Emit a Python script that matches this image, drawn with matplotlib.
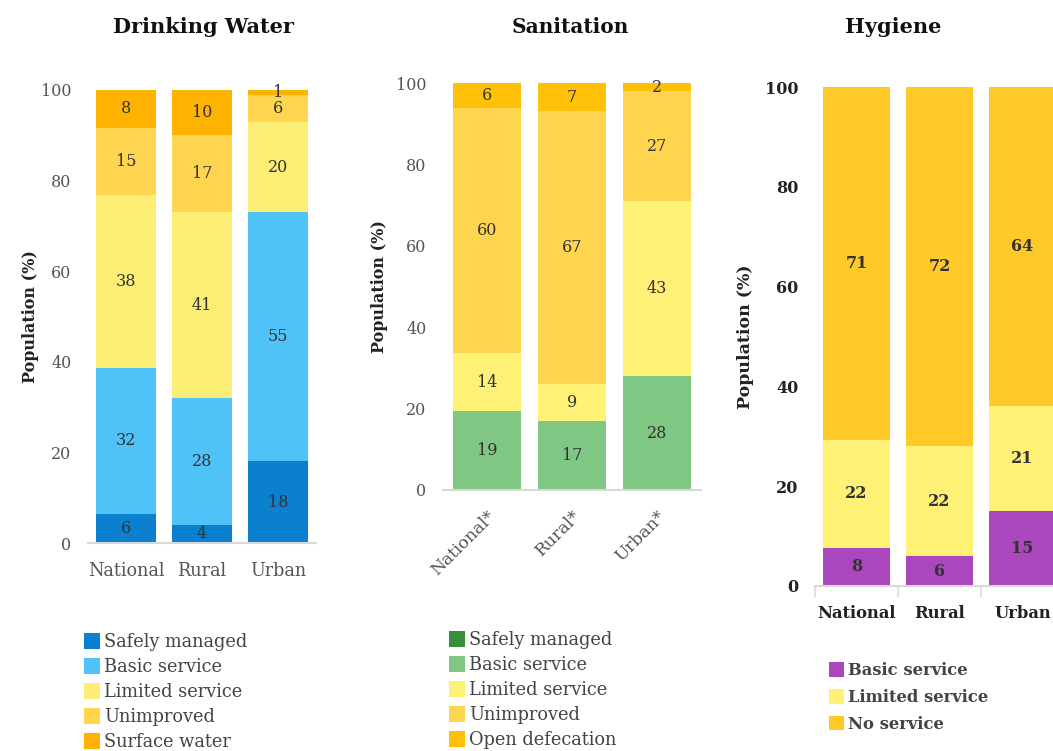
import numpy as np
import matplotlib
matplotlib.use("Agg")
import matplotlib.pyplot as plt
from matplotlib.patches import Patch

plt.rcParams['font.family'] = ['DejaVu Serif']

# data (segment heights, labels as printed)
dw_groups = ["National", "Rural", "Urban"]
dw_labels = ["Safely managed", "Basic service", "Limited service", "Unimproved", "Surface water"]
dw_colors = ["#0B80CF", "#4FC3F7", "#FCEE75", "#FFD54F", "#FFB300"]
dw_safe = [6.4, 4, 18]
dw_basic = [32.3, 28, 55]
dw_limited = [38.2, 41, 20]
dw_unimp = [14.8, 17, 6]
dw_surface = [8.3, 10, 1]

san_groups = ["National*", "Rural*", "Urban*"]
san_labels = ["Safely managed", "Basic service", "Limited service", "Unimproved", "Open defecation"]
san_colors = ["#388E3C", "#81C784", "#FFF176", "#FFD54F", "#FFC107"]
san_safe = [0, 0, 0]
san_basic = [19.3, 17, 28]
san_limited = [14.4, 9, 43]
san_unimp = [60.2, 67, 27]
san_open = [6.1, 7, 2]

hy_groups = ["National", "Rural", "Urban"]
hy_labels = ["Basic service", "Limited service", "No service"]
hy_colors = ["#AB47BC", "#FFF176", "#FFCA28"]
hy_basic = [7.7, 6, 15]
hy_limited = [21.6, 22, 21]
hy_none = [70.7, 72, 64]

W, H = 1053, 751
fig = plt.figure(figsize=(W / 100, H / 100), dpi=100)


def px_axes(x0, x1, y0, y1):
    # y0 = pixel of value 0, y1 = pixel of value 100
    return fig.add_axes([x0 / W, 1 - y0 / H, (x1 - x0) / W, (y0 - y1) / H])


def stacked(ax, series, colors, width, weight, xlim):
    x = np.arange(3)
    bottom = np.zeros(3)
    for vals, c in zip(series, colors):
        vals = np.array(vals, dtype=float)
        ax.bar(x, vals, width, bottom=bottom, color=c, edgecolor="none")
        for xi, b, v in zip(x, bottom, vals):
            if v > 0:
                ax.text(xi, b + v / 2, f"{v:.0f}", ha="center", va="center",
                        fontsize=11.5, color="#333333", fontweight=weight)
        bottom += vals
    ax.set_ylim(0, 100)
    ax.set_xlim(*xlim)
    ax.set_yticks([0, 20, 40, 60, 80, 100])
    for s in ["top", "right", "left"]:
        ax.spines[s].set_visible(False)
    ax.spines["bottom"].set_color("#d9d9d9")
    ax.spines["bottom"].set_linewidth(1.5)
    ax.tick_params(axis="y", length=0, labelsize=11.5, labelcolor="#555555", pad=12)
    ax.tick_params(axis="x", length=0, labelsize=12.7, labelcolor="#555555")


# Drinking water
ax1 = px_axes(88, 316, 543, 90)
stacked(ax1, [dw_safe, dw_basic, dw_limited, dw_unimp, dw_surface], dw_colors, 0.79, "normal", (-0.5, 2.5))
ax1.set_xticks(range(3))
ax1.set_xticklabels(dw_groups)
ax1.tick_params(axis="x", pad=14)
ax1.set_ylabel("Population (%)", fontsize=11.5, fontweight="bold", color="#222222", labelpad=1)
fig.text(203 / W, 1 - 27 / H, "Drinking Water", ha="center", va="center",
         fontsize=15, fontweight="bold", color="#111111")

# Sanitation
ax2 = px_axes(443, 701, 490, 83)
stacked(ax2, [san_safe, san_basic, san_limited, san_unimp, san_open], san_colors, 0.8, "normal", (-0.52, 2.52))
ax2.set_xticks(range(3))
ax2.set_xticklabels(san_groups, rotation=45, ha="right", rotation_mode="anchor")
ax2.tick_params(axis="x", pad=13, labelsize=12.3)
ax2.set_ylabel("Population (%)", fontsize=11.5, fontweight="bold", color="#222222", labelpad=6)
fig.text(570 / W, 1 - 27 / H, "Sanitation", ha="center", va="center",
         fontsize=14.5, fontweight="bold", color="#111111")

# Hygiene
ax3 = px_axes(815, 1064, 586, 87)
stacked(ax3, [hy_basic, hy_limited, hy_none], hy_colors, 0.8, "bold", (-0.5, 2.5))
ax3.set_xticks(range(3))
ax3.set_xticklabels(hy_groups, fontweight="bold", color="#222222")
ax3.set_xticks([-0.5, 0.5, 1.5], minor=True)
ax3.tick_params(axis="x", which="minor", length=8, color="#d9d9d9", width=1.2)
ax3.tick_params(axis="x", which="major", pad=14, labelsize=11.8, labelcolor="#222222")
ax3.tick_params(axis="y", labelcolor="#222222")
for t in ax3.get_yticklabels():
    t.set_fontweight("bold")
ax3.set_ylabel("Population (%)", fontsize=12.5, fontweight="bold", color="#222222", labelpad=8)
fig.text(893 / W, 1 - 27 / H, "Hygiene", ha="center", va="center",
         fontsize=15, fontweight="bold", color="#111111")


def legend(labels, colors, x, y, weight, size, spacing):
    handles = [Patch(facecolor=c, edgecolor="none") for c in colors]
    leg = fig.legend(handles, labels, loc="upper left", bbox_to_anchor=(x / W, 1 - y / H),
                     frameon=False, handlelength=0.9, handleheight=1.0, handletextpad=0.25,
                     labelspacing=spacing, borderpad=0, borderaxespad=0,
                     prop={"size": size, "weight": weight})
    for t in leg.get_texts():
        t.set_color("#444444")


legend(dw_labels, dw_colors, 84, 633, "normal", 12.8, 0.39)
legend(san_labels, san_colors, 449, 631, "normal", 12.8, 0.39)
legend(hy_labels, hy_colors, 829, 662, "bold", 11.8, 0.6)

fig.savefig("out.png", dpi=100)
